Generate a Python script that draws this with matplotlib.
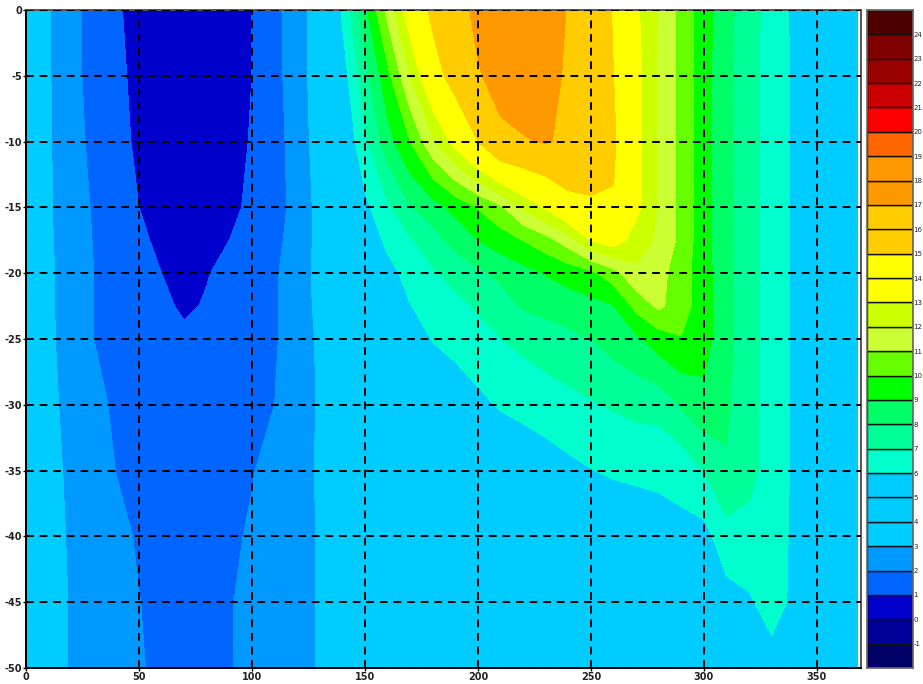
import numpy as np
import matplotlib
matplotlib.use('Agg')
import matplotlib.pyplot as plt
from matplotlib.colors import ListedColormap, BoundaryNorm

# ── DATA ──────────────────────────────────────────────────────────────────────
x_vals = list(range(0, 370, 10)) + [368]
depths = [0, -5, -10, -15, -17.5, -20, -22.5, -25, -30, -35, -40, -45, -50]

z_00 = [3.5,3.08,2.3,1.65,1.08,.78,.5,.5,.5,.75,1,1.83,2.35,3.8,6.15,8.75,11.3,13.7,15.35,16.5,17.3,17.75,17.8,17.4,16.95,16,14.9,13.2,11.85,10.7,9.45,8.3,7.4,6.6,5.8,5,4.7,4.5]
z_05 = [3.5,3.08,2.3,1.67,1.17,.8,.5,.5,.5,.75,1,1.77,2.4,3.7,5.5,7.6,9.7,12,14.3,15.7,16.9,17.4,17.8,17.35,16.85,15.95,15,13.4,11.85,10.7,9.35,8.3,7.35,6.55,5.85,5,4.7,4.5]
z_10 = [3.5,3.1,2.4,1.75,1.27,.85,.5,.5,.5,.75,1.05,1.7,2.35,3.55,5,6.75,8.6,10,11.8,13.45,15,16.75,16.9,17.1,16.75,15.9,15.2,13.4,11.85,10.7,9.35,8.3,7.35,6.55,5.85,5,4.7,4.5]
z_15 = [3.5,3.1,2.5,1.9,1.45,1,.67,.5,.5,.8,1.17,1.65,2.3,3.35,4.55,5.75,6.8,7.9,8.6,9.3,10.05,10.8,12.15,13.1,14.4,14.8,14.9,13.35,11.85,10.7,9.35,8.3,7.35,6.55,5.85,5,4.7,4.5]
z_17 = [3.5,3.12,2.55,1.95,1.55,1.18,.8,.55,.7,1,1.38,1.75,2.4,3.3,4.3,5.35,6.2,6.87,7.6,8.35,9,9.5,10.02,10.6,11.5,13.02,13.6,12.45,11.85,10.7,9.35,8.3,7.35,6.55,5.85,5,4.7,4.5]
z_20 = [3.5,3.15,2.6,2,1.68,1.35,1,.65,.95,1.27,1.58,1.88,2.5,3.3,4.1,4.9,5.7,6.3,6.85,7.35,7.8,8.25,8.65,9.05,9.4,9.75,10.6,11.8,11.35,10.45,9.4,8.3,7.35,6.55,5.85,5,4.7,4.5]
z_22 = [3.5,3.15,2.6,2,1.75,1.5,1.2,.85,1.08,1.3,1.6,1.9,2.5,3.25,4,4.8,5.4,5.97,6.35,6.75,7.1,7.55,8.1,8.3,8.5,8.7,8.95,10.3,11.2,10.45,9.4,8.3,7.35,6.55,5.85,5,4.7,4.5]
z_25 = [3.5,3.15,2.65,2,1.75,1.5,1.35,1.2,1.25,1.4,1.65,1.9,2.5,3.15,3.75,4.35,4.95,5.5,6.05,6.35,6.65,6.97,7.25,7.5,7.75,8,8.4,8.8,9.5,9.95,9.4,8.3,7.35,6.55,5.85,5,4.7,4.5]
z_30 = [3.55,3.2,2.75,2.25,1.85,1.6,1.45,1.35,1.4,1.55,1.75,2,2.55,3.1,3.5,3.9,4.3,4.65,5,5.35,5.75,6.1,6.3,6.5,6.7,6.9,7.1,7.3,7.35,8.1,8.7,8.15,7.35,6.55,5.85,5,4.7,4.5]
z_35 = [3.6,3.25,2.85,2.4,1.98,1.75,1.6,1.55,1.6,1.75,1.95,2.3,2.7,3.1,3.4,3.65,3.9,4.15,4.4,4.6,4.85,5.05,5.25,5.5,5.75,5.97,6.1,6.15,6.2,6.3,7.02,7.9,7.3,6.55,5.85,5,4.7,4.5]
z_40 = [3.6,3.3,2.9,2.55,2.25,1.9,1.7,1.65,1.7,1.85,2.1,2.4,2.75,3.05,3.3,3.5,3.7,3.9,4.1,4.3,4.45,4.6,4.75,4.9,5.05,5.2,5.35,5.5,5.6,5.75,5.65,6.6,6.65,6.4,5.85,5,4.7,4.5]
z_45 = [3.6,3.3,2.95,2.6,2.3,2.02,1.75,1.7,1.75,1.95,2.2,2.5,2.8,3.05,3.25,3.4,3.55,3.7,3.85,4,4.15,4.3,4.4,4.55,4.65,4.8,4.9,5.05,5.2,5.3,5.45,5.6,5.88,6.4,5.8,5,4.7,4.5]
z_50 = [3.6,3.3,2.95,2.6,2.35,2.08,1.8,1.75,1.8,1.95,2.2,2.5,2.8,3.05,3.2,3.35,3.5,3.6,3.7,3.8,3.9,4,4.1,4.2,4.3,4.4,4.5,4.6,4.7,4.8,4.95,5.1,5.3,5.6,5.3,4.9,4.7,4.5]

levels = list(range(-2, 26))
level_colors = ['#000066', '#000099', '#0000cc', '#0066ff', '#0099ff',
                '#00ccff', '#00ccff', '#00ccff', '#00ffcc', '#00ff99',
                '#00ff66', '#00ff00', '#66ff00', '#ccff33', '#ccff00',
                '#ffff00', '#ffff00', '#ffcc00', '#ffcc00', '#ff9900',
                '#ff9900', '#ff6600', '#ff0000', '#cc0000', '#990000',
                '#800000', '#4d0000']
x_ticks = [0, 50, 100, 150, 200, 250, 300, 350]
y_ticks = [0, -5, -10, -15, -20, -25, -30, -35, -40, -45, -50]

# ── PLOT ──────────────────────────────────────────────────────────────────────
W, H = 923, 684
fig = plt.figure(figsize=(W/100, H/100), dpi=100, facecolor='white')

def px_axes(x0, y0, x1, y1):
    return fig.add_axes([x0/W, 1 - y1/H, (x1-x0)/W, (y1-y0)/H])

tick_font = dict(fontsize=7, fontweight='bold', family='DejaVu Sans', color='#222222')

ax = px_axes(26, 10, 861, 668)
Z = np.array([z_00, z_05, z_10, z_15, z_17, z_20, z_22, z_25, z_30, z_35, z_40, z_45, z_50])
cmap = ListedColormap(level_colors)
norm = BoundaryNorm(levels, cmap.N)
ax.contourf(x_vals, depths, Z, levels=levels, cmap=cmap, norm=norm, antialiased=False)
ax.set_xlim(0, 369.5)
ax.set_ylim(-50, 0)
ax.set_xticks(x_ticks)
ax.set_yticks(y_ticks)
ax.set_xticklabels([str(v) for v in x_ticks], **tick_font)
ax.set_yticklabels([str(v) for v in y_ticks], **tick_font)
ax.tick_params(length=2, width=1, pad=1, color='black')
ax.grid(True, color='black', lw=1.4, linestyle=(0, (4, 3)))
ax.set_axisbelow(False)
for side in ['left', 'bottom']:
    ax.spines[side].set_linewidth(1.4)
for side in ['top', 'right']:
    ax.spines[side].set_linewidth(1.4)
    ax.spines[side].set_color('#555555')

# legend bar, one box per contour band
cb = px_axes(867, 10, 913, 668)
cb.barh(levels[:-1], 1, height=1, left=0, align='edge', color=level_colors,
        edgecolor='#111111', linewidth=1)
cb.set_xlim(0, 1)
cb.set_ylim(levels[0], levels[-1])
cb.set_xticks([])
cb.yaxis.tick_right()
cb.set_yticks(levels[1:-1])
cb.set_yticklabels([str(v) for v in levels[1:-1]], fontsize=5, family='DejaVu Sans', color='#222222')
cb.tick_params(length=0, pad=0.5)
for s in cb.spines.values():
    s.set_color('#666666')
    s.set_linewidth(1.2)

fig.savefig('out.png', dpi=100)
